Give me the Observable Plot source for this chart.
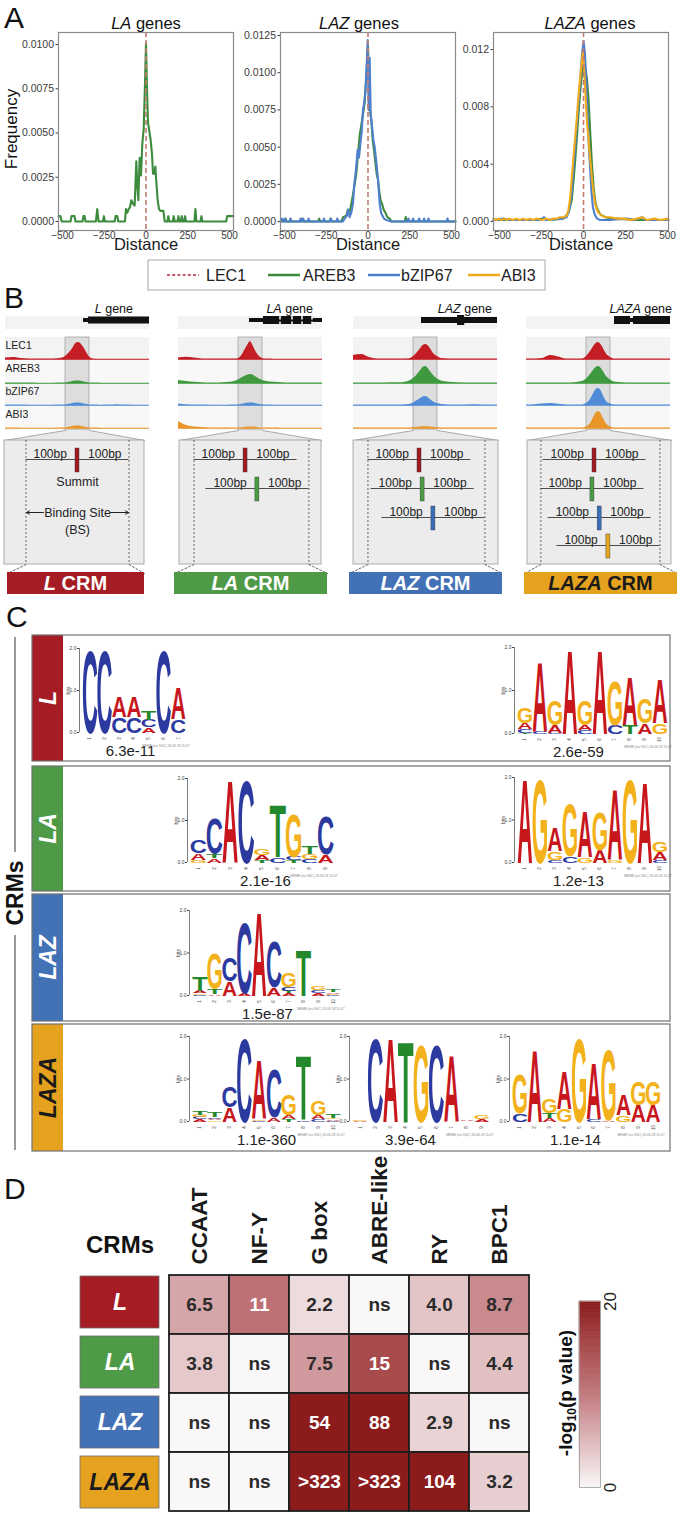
<!DOCTYPE html>
<html><head><meta charset="utf-8">
<script src="https://cdn.jsdelivr.net/npm/d3@7"></script>
<script src="https://cdn.jsdelivr.net/npm/@observablehq/plot@0.6"></script>
<style>
html,body{margin:0;padding:0;background:#fff;}
#root{position:relative;width:677px;height:1513px;overflow:hidden;font-family:"Liberation Sans",Arial,sans-serif;}
</style></head><body><div id="root"></div>
<script>
// ---------------- DATA ----------------
// Panel A: distance-to-LEC1-summit frequency curves ([distance, frequency])
const DIST_TICKS = [-500, -250, 0, 250, 500];
const A_TITLES = ["LA", "LAZ", "LAZA"];
const LEGEND_TF = ["LEC1", "AREB3", "bZIP67", "ABI3"];
const LA_AREB3 = [[-524,0.0003],[-512,0.0003],[-505,0],[-452,0],[-446,0.0003],[-428,0.0003],[-422,0],[-380,0],[-375,0.0003],[-368,0.0003],[-362,0],[-300,0],[-292,0.0007],[-284,0],[-258,0],[-252,0.0003],[-246,0],[-188,0],[-182,0.0003],[-172,0.0003],[-166,0],[-126,0],[-120,0.0007],[-112,0.0005],[-104,0.0007],[-96,0.0008],[-88,0.0012],[-78,0.0010],[-68,0.0009],[-58,0.0034],[-52,0.0020],[-46,0.0012],[-38,0.0036],[-30,0.0026],[-22,0.0044],[-14,0.0052],[-6,0.0078],[0,0.0101],[6,0.0075],[12,0.0056],[20,0.0051],[28,0.0046],[36,0.0038],[42,0.0027],[50,0.0027],[56,0.0031],[62,0.0022],[70,0.0012],[78,0.0007],[86,0.0006],[104,0.0006],[112,0],[128,0],[134,0.0003],[140,0],[160,0],[166,0.0003],[172,0],[188,0],[194,0.0003],[200,0],[208,0],[214,0.0003],[220,0],[228,0],[234,0.0003],[240,0],[290,0],[296,0.0007],[302,0],[326,0],[332,0.0003],[338,0],[480,0],[486,0.0003],[524,0.0003]];
const LAZ_AREB3 = [[-524,0],[-500,0],[-494,0.0002],[-488,0],[-400,0],[-394,0.0002],[-388,0],[-300,0],[-292,0.0002],[-286,0],[-230,0],[-224,0.0002],[-218,0],[-160,0],[-150,0.0003],[-130,0.0004],[-120,0.0008],[-110,0.0006],[-100,0.0012],[-90,0.0018],[-80,0.0025],[-70,0.0032],[-60,0.0045],[-50,0.0058],[-40,0.0065],[-30,0.0072],[-20,0.0080],[-10,0.0098],[0,0.0118],[6,0.0095],[12,0.0075],[20,0.0068],[28,0.0055],[36,0.0048],[44,0.0040],[52,0.0032],[60,0.0028],[68,0.0020],[76,0.0014],[84,0.0012],[94,0.0008],[104,0.0006],[116,0.0003],[130,0.0002],[140,0],[220,0],[226,0.0003],[232,0],[524,0]];
const LAZ_BZIP67 = [[-524,0],[-515,0.0002],[-505,0],[-498,0.0002],[-490,0],[-470,0],[-464,0.0002],[-458,0],[-410,0],[-404,0.0002],[-396,0],[-388,0.0002],[-380,0],[-362,0],[-356,0.0002],[-350,0],[-270,0],[-264,0.0002],[-258,0],[-230,0],[-222,0.0002],[-216,0],[-190,0],[-184,0.0002],[-178,0],[-150,0],[-140,0.0002],[-126,0.0004],[-118,0.0008],[-110,0.0003],[-100,0.0006],[-90,0.0012],[-82,0.0025],[-72,0.0035],[-62,0.0048],[-54,0.0043],[-46,0.0052],[-38,0.0060],[-30,0.0075],[-22,0.0080],[-14,0.0090],[-8,0.0105],[-2,0.0122],[4,0.0075],[10,0.0110],[16,0.0072],[24,0.0064],[32,0.0055],[40,0.0050],[48,0.0042],[56,0.0033],[62,0.0025],[70,0.0012],[78,0.0006],[86,0.0004],[96,0.0002],[110,0.0001],[140,0],[236,0],[242,0.0002],[248,0],[264,0],[270,0.0002],[276,0],[300,0],[306,0.0002],[312,0],[330,0],[336,0.0002],[342,0],[356,0],[362,0.0002],[368,0],[470,0],[476,0.0002],[482,0],[524,0]];
const LAZA_AREB3 = [[-536,0.0001],[-500,0.0001],[-300,0.0001],[-240,0.0002],[-200,0.0001],[-120,0.0002],[-90,0.0006],[-70,0.0015],[-60,0.0028],[-50,0.0042],[-40,0.0058],[-30,0.0075],[-20,0.0090],[-10,0.0102],[0,0.0110],[10,0.0108],[20,0.0100],[30,0.0085],[40,0.0062],[50,0.0040],[60,0.0024],[70,0.0014],[80,0.0009],[100,0.0005],[130,0.0003],[160,0.0002],[200,0.0002],[300,0.0001],[506,0.0001]];
const LAZA_BZIP67 = [[-536,0.0001],[-480,0.0002],[-430,0.0001],[-250,0.0001],[-235,0.0003],[-225,0.0001],[-130,0.0002],[-100,0.0003],[-85,0.0008],[-70,0.0020],[-60,0.0036],[-50,0.0052],[-40,0.0068],[-30,0.0082],[-20,0.0098],[-10,0.0115],[0,0.0126],[8,0.0118],[16,0.0098],[24,0.0075],[32,0.0052],[40,0.0035],[48,0.0020],[56,0.0010],[66,0.0005],[80,0.0002],[100,0.0001],[150,0.0001],[260,0.0002],[300,0.0001],[350,0.0003],[370,0.0001],[506,0.0001]];
const LAZA_ABI3 = [[-536,0.0002],[-520,0.0001],[-505,0.0002],[-490,0.0001],[-470,0.0002],[-455,0.0001],[-440,0.0002],[-420,0.0001],[-400,0.0002],[-380,0.0001],[-360,0.0002],[-340,0.0001],[-320,0.0002],[-300,0.0001],[-280,0.0002],[-250,0.0001],[-220,0.0002],[-200,0.0001],[-180,0.0002],[-160,0.0002],[-140,0.0003],[-120,0.0003],[-100,0.0004],[-90,0.0008],[-80,0.0016],[-70,0.0030],[-60,0.0045],[-50,0.0058],[-40,0.0072],[-30,0.0088],[-20,0.0100],[-10,0.0112],[-4,0.0118],[4,0.0105],[12,0.0088],[20,0.0070],[28,0.0060],[36,0.0048],[44,0.0038],[52,0.0028],[60,0.0020],[70,0.0012],[80,0.0008],[90,0.0006],[110,0.0004],[130,0.0003],[160,0.0003],[200,0.0002],[240,0.0002],[280,0.0001],[320,0.0002],[350,0.0003],[380,0.0001],[420,0.0002],[460,0.0001],[500,0.0002],[506,0.0001]];

// Panel B: genome-browser tracks (signal at positions, bp relative to LEC1 summit)
const B_GENES = ["L", "LA", "LAZ", "LAZA"];
const B_TF = ["LEC1", "AREB3", "bZIP67", "ABI3"];
const B_POS = [-900,-800,-700,-600,-500,-400,-300,-200,-150,-100,-60,-30,0,30,60,100,150,200,300,400,500,600,700,800,900];
const B_SIGNAL_L = [
  [1.5,2,1,0.5,0.4,0.4,0.5,1.2,3,7,11,15,17,16.5,14,9,2.5,0.6,0.3,0.3,0.3,0.3,0.3,0.3,0.3],
  [0.4,0.4,0.4,0.4,0.3,0.3,0.3,0.4,0.6,1.2,2,2.5,2.6,2.4,2,1.2,0.6,0.4,0.3,0.3,0.3,0.3,0.3,0.3,0.3],
  [0.6,0.4,0.4,0.3,0.3,0.3,0.3,0.4,0.6,1.2,2,2.5,2.6,2.4,2,1.2,0.6,0.4,0.3,0.4,0.8,0.4,0.3,0.3,0.3],
  [0.4,0.4,0.3,0.3,0.3,0.3,0.3,0.4,0.6,1.2,2,2.5,2.6,2.4,2,1.2,0.6,0.4,0.3,0.3,0.3,0.3,0.3,0.3,0.3]];
const B_SIGNAL_LA = [
  [1.5,2.2,1.5,0.5,0.4,0.4,0.4,0.4,1,5,11,15,18,14,9,4,1,0.4,0.3,0.3,0.3,0.3,0.3,0.3,0.3],
  [3,2,1.2,0.8,0.6,0.6,1,2,3.5,6,7.5,8.5,9,8.5,7,5,3,2,1.2,0.8,0.5,0.4,0.4,0.4,0.4],
  [1.5,0.8,0.4,0.4,0.3,0.3,0.3,0.4,0.6,1.2,2,2.5,2.6,2.4,2,1.2,0.6,0.4,0.3,0.3,0.3,0.3,0.3,0.3,0.3],
  [7,3,1.5,1,0.6,0.5,0.4,0.4,0.5,0.8,1.2,1.5,1.5,1.4,1.2,0.8,0.5,0.4,0.4,0.3,0.3,0.3,0.3,0.3,0.3]];
const B_SIGNAL_LAZ = [
  [4,5,2,0.6,0.5,0.5,0.5,0.8,3,7,11,14,15,14,11,6,3,1,0.6,0.5,0.5,0.5,0.5,0.5,0.5],
  [0.5,0.5,0.5,0.5,0.6,0.7,0.8,2.5,5,9,13,16,17,15.5,12,8,4.5,2.5,1.2,0.8,0.6,0.5,0.5,0.5,0.5],
  [0.5,0.6,0.5,0.5,0.5,0.5,0.6,1,2.5,5,7,8.5,9,8,6,3.5,2,1,0.6,0.5,0.6,0.8,0.6,0.5,0.5],
  [0.5,0.5,0.5,0.5,0.5,0.5,0.5,0.6,0.8,1.2,1.5,1.7,1.8,1.7,1.5,1.2,0.8,0.6,0.5,0.5,0.5,0.5,0.5,0.5,0.5]];
const B_SIGNAL_LAZA = [
  [0.4,0.5,1,4,2.5,0.5,0.4,0.5,3,8,13,16,17,15,11,5.5,2,0.6,0.4,0.4,0.4,0.4,0.4,0.4,0.4],
  [0.4,0.4,0.4,0.5,0.5,0.6,0.8,2,4.5,9,13.5,16,17,15.5,12,7,3.5,1.5,0.8,0.5,0.4,0.4,0.4,0.4,0.4],
  [0.6,0.8,1.5,2,1.2,0.6,0.5,0.6,2,6,12,16,17,15,10,4,1.5,0.6,0.5,0.5,0.5,0.4,0.4,0.4,0.4],
  [0.4,0.4,0.4,0.4,0.4,0.4,0.4,0.5,1.5,5,11,15.5,17,15,10,4.5,1.5,0.5,0.4,0.4,0.4,0.4,0.4,0.4,0.4]];
// gene models: [start bp, end bp, thickness]
const B_GENE_L = [[75,137,4],[137,900,7]];
const B_GENE_LA = [[-12,162,4],[162,365,8],[385,515,8],[535,640,8],[660,765,8],[785,900,4]];
const B_GENE_LAZ = [[-50,900,6],[400,490,10]];
const B_GENE_LAZA = [[200,400,8],[400,437,4],[437,900,8]];
// summit offsets (bp, relative to LEC1 summit) of the TFs defining each CRM
const B_SUMMITS_L = [0];
const B_SUMMITS_LA = [0, 23];
const B_SUMMITS_LAZ = [0, 6, 27];
const B_SUMMITS_LAZA = [0, -4, 10, 27];

// Panel C: motif logos, per position [A, C, G, T] information (bits)
const LOGO_L1 = [[0,2,0,0],[0,2,0,0],[0.5,0.38,0,0],[0.5,0.38,0,0],[0.12,0.18,0,0.22],[0,2,0,0],[0.75,0.33,0,0]];
const LOGO_L2 = [[0.15,0.08,0.37,0.02],[1.65,0.05,0,0],[0.18,0.02,0.6,0],[2,0,0,0],[0.12,0.08,0.6,0],[2,0,0,0],[0,0.2,1.05,0],[1.15,0,0,0.2],[0.25,0,0.58,0],[1.05,0,0.25,0]];
const LOGO_LA1 = [[0.17,0.3,0.05,0],[0.1,0.85,0,0.1],[2,0,0,0],[0,2,0,0],[0.13,0,0.17,0.05],[0,0.12,0,1.28],[0,0.08,1.05,0.05],[0,0.08,0.12,0.18],[0.2,0.92,0,0]];
const LOGO_LA2 = [[2,0,0,0],[0,0,2,0],[0.55,0.07,0.2,0],[0,0.15,1.25,0],[1.1,0,0.12,0],[0.3,0,0.9,0],[1.7,0,0.05,0],[0,0,2,0],[1.95,0,0,0],[0.2,0.05,0.25,0]];
const LOGO_LAZ = [[0.06,0.02,0.03,0.33],[0.03,0,0.85,0.12],[0.35,0.55,0,0],[0.05,1.7,0,0],[2,0,0,0],[0.2,1.1,0,0],[0.05,0.1,0.35,0.05],[0,0,0,1.1],[0.05,0.07,0.1,0],[0.04,0.02,0.02,0.05]];
const LOGO_LAZA1 = [[0.05,0.05,0.05,0.08],[0.04,0.04,0.03,0.12],[0.35,0.5,0,0],[0,2,0,0],[1.42,0.02,0.03,0],[0.1,1.15,0,0],[0.1,0,0.5,0.05],[0,0.04,0,1.55],[0.1,0.05,0.35,0],[0.03,0.02,0.04,0.08]];
const LOGO_LAZA2 = [[0.02,0,0.02,0],[0,2,0,0],[2,0,0,0],[0,0,0,1.95],[0,0,1.85,0],[0,1.85,0,0],[1.6,0,0,0],[0.02,0,0.01,0],[0.06,0,0.08,0]];
const LOGO_LAZA3 = [[0,0.2,0.95,0],[1.72,0,0,0],[0.08,0,0.35,0.12],[0.9,0,0.3,0],[0,0,2,0],[1.35,0.06,0,0],[0.04,0,1.7,0],[0.5,0,0.15,0],[0.4,0,0.55,0],[0.4,0,0.55,0]];
const LOGO_PVALUES = ["6.3e-11", "2.6e-59", "2.1e-16", "1.2e-13", "1.5e-87", "1.1e-360", "3.9e-64", "1.1e-14"];

// Panel D: motif enrichment (-log10 p), labels as printed
const D_CRMS = ["L", "LA", "LAZ", "LAZA"];
const D_MOTIFS = ["CCAAT", "NF-Y", "G box", "ABRE-like", "RY", "BPC1"];
const D_LABELS = [
  ["6.5", "11", "2.2", "ns", "4.0", "8.7"],
  ["3.8", "ns", "7.5", "15", "ns", "4.4"],
  ["ns", "ns", "54", "88", "2.9", "ns"],
  ["ns", "ns", ">323", ">323", "104", "3.2"]];
const D_LEGEND_TICKS = [0, 20];

// ---------------- STYLE ----------------
const FONT = '"Liberation Sans", Arial, sans-serif';
const NARROW = '"Liberation Sans Narrow", "Liberation Sans", Arial, sans-serif';
const GREEN = "#3d8b3d", BLUE = "#4d7fcc", ORANGE = "#f0aa1c", LECRED = "#c47c72", LECLEG = "#b5283c";
const CRM_COL = {L: "#a51c24", LA: "#4e9a47", LAZ: "#4371b6", LAZA: "#e5a21f"};
const CRM_TXT = {L: "#fff", LA: "#fff", LAZ: "#fff", LAZA: "#1a1a1a"};
const PEAK_COL = ["#c41e24", "#3f9a3f", "#4f8bd6", "#e8952a"];
const SUMMIT_COL = ["#a01a22", "#4a9c44", "#3a6fb8", "#e8a51f"];
const BASE_COL = {A: "#c8161d", C: "#2c3a9f", G: "#f3b21b", T: "#23882c"};
const INK_W = {A: 0.70, C: 0.66, G: 0.70, T: 0.58};
const BASES = ["A", "C", "G", "T"];

const root = document.getElementById("root");
function put(node, left, top) {
  node.style.position = "absolute"; node.style.left = left + "px"; node.style.top = top + "px";
  root.appendChild(node); return node;
}
const baseStyle = {background: "none", overflow: "visible", fontFamily: FONT};

// ---------------- PANEL A ----------------
const A_CFG = [
  {left: 0, width: 236, ml: 58, mr: 3, xd: [-524, 524], yd: [-0.00051, 0.01068], yt: [0, 0.0025, 0.005, 0.0075, 0.01], fmt: ".4f", series: [[LA_AREB3, GREEN]]},
  {left: 225, width: 233, ml: 55, mr: 3, xd: [-524, 524], yd: [-0.0006, 0.0127], yt: [0, 0.0025, 0.005, 0.0075, 0.01, 0.0125], fmt: ".4f", series: [[LAZ_AREB3, GREEN], [LAZ_BZIP67, BLUE]]},
  {left: 455, width: 217, ml: 38, mr: 4, xd: [-536, 506], yd: [-0.00063, 0.01319], yt: [0, 0.004, 0.008, 0.012], fmt: ".3f", series: [[LAZA_AREB3, GREEN], [LAZA_BZIP67, BLUE], [LAZA_ABI3, ORANGE]]}
];
A_CFG.forEach(cfg => {
  const marks = [
    Plot.axisY({ticks: cfg.yt, tickFormat: d3.format(cfg.fmt), tickSize: 2.5, tickPadding: 2, fontSize: 10.5, label: null}),
    Plot.axisX({ticks: DIST_TICKS, tickSize: 1.5, tickPadding: 0, fontSize: 10, label: null})
  ];
  cfg.series.forEach(([data, color]) => marks.push(Plot.line(data, {x: d => d[0], y: d => d[1], stroke: color, strokeWidth: 2.1})));
  marks.push(Plot.ruleX([0], {stroke: LECRED, strokeWidth: 1.6, strokeDasharray: "5,3"}));
  marks.push(Plot.frame({stroke: "#8a8a8a", strokeWidth: 1.2}));
  marks.push(Plot.text(["Distance"], {frameAnchor: "bottom", dy: 19, fontSize: 16.5, fill: "#1a1a1a"}));
  const svg = Plot.plot({
    width: cfg.width, height: 252, marginLeft: cfg.ml, marginRight: cfg.mr, marginTop: 32, marginBottom: 22,
    x: {domain: cfg.xd}, y: {domain: cfg.yd},
    style: {...baseStyle, color: "#3a3a3a"}, marks
  });
  put(svg, cfg.left, 0);
});

// ---------------- PANEL B ----------------
const B_TRACK_LEFT = [5, 178, 353, 526];
const B_ZC = [0, -62, -75, -50];
const B_CRM_X = [[7, 144], [174, 327], [349, 502], [524, 677]];
const B_BOX_X = [[4, 144], [179, 321], [353, 498], [527, 671]];
const TRACK_BASE = [359, 383, 405, 428];
const TRACK_LABEL_Y = [348, 371, 394, 417];
const B_ROW_Y = [459, 488, 517, 545];
const B_SIG = [B_SIGNAL_L, B_SIGNAL_LA, B_SIGNAL_LAZ, B_SIGNAL_LAZA];
const B_GENE = [B_GENE_L, B_GENE_LA, B_GENE_LAZ, B_GENE_LAZA];
const B_SUM = [B_SUMMITS_L, B_SUMMITS_LA, B_SUMMITS_LAZ, B_SUMMITS_LAZA];
const pxToBp = (ci, px) => (px - B_TRACK_LEFT[ci]) / 0.08 - 900;

B_GENES.forEach((g, ci) => {
  const z2t = z => B_ZC[ci] + z * 6.44;
  const offs = B_SUM[ci];
  const bsL = z2t(d3.min(offs) - 100), bsR = z2t(d3.max(offs) + 100);
  const boxL = pxToBp(ci, B_BOX_X[ci][0]), boxR = pxToBp(ci, B_BOX_X[ci][1]);
  const crmL = pxToBp(ci, B_CRM_X[ci][0]), crmR = pxToBp(ci, B_CRM_X[ci][1]);
  const gene = B_GENE[ci];
  const marks = [
    Plot.rect([0], {x1: -900, x2: 900, y1: 316, y2: 329, fill: "#f3f3f3"}),
    Plot.ruleY([320], {x1: gene[0][0], x2: 900, stroke: "#111", strokeWidth: 2}),
    Plot.rect(gene, {x1: d => d[0], x2: d => d[1], y1: d => 320 - d[2] / 2, y2: d => 320 + d[2] / 2, fill: "#111"}),
    Plot.rect(TRACK_BASE, {x1: -900, x2: 900, y1: d => d - 22, y2: d => d + 1.5, fill: (d, i) => i % 2 ? "#f8f8f8" : "#f3f3f3"}),
    Plot.rect([0], {x1: -150, x2: 150, y1: 337, y2: 430, fill: "#d8d8d8", fillOpacity: 0.85, stroke: "#a3a3a3", strokeWidth: 0.8})
  ];
  B_SIG[ci].forEach((sig, t) => {
    const base = TRACK_BASE[t];
    marks.push(Plot.ruleY([base], {stroke: PEAK_COL[t], strokeWidth: 0.8}));
    marks.push(Plot.areaY(B_POS.map((p, j) => ({x: p, s: sig[j]})), {x: "x", y1: base, y2: d => base - d.s, fill: PEAK_COL[t], curve: "monotone-x"}));
  });
  marks.push(
    Plot.areaY([[boxL, 440], [-150, 430], [150, 430], [boxR, 440]], {x: d => d[0], y1: 440, y2: d => d[1], fill: "#e9e9e9"}),
    Plot.line([[-150, 430], [boxL, 440]], {x: d => d[0], y: d => d[1], stroke: "#9a9a9a", strokeWidth: 0.8}),
    Plot.line([[150, 430], [boxR, 440]], {x: d => d[0], y: d => d[1], stroke: "#9a9a9a", strokeWidth: 0.8}),
    Plot.rect([0], {x1: boxL, x2: boxR, y1: 440, y2: 564, fill: "#ececec", stroke: "#9a9a9a", strokeWidth: 0.8}),
    Plot.ruleX([bsL, bsR], {y1: 440, y2: 564, stroke: "#555", strokeDasharray: "2,2", strokeWidth: 0.9}),
    Plot.line([[bsL, 564], [crmL, 573]], {x: d => d[0], y: d => d[1], stroke: "#555", strokeDasharray: "2,2", strokeWidth: 0.9}),
    Plot.line([[bsR, 564], [crmR, 573]], {x: d => d[0], y: d => d[1], stroke: "#555", strokeDasharray: "2,2", strokeWidth: 0.9})
  );
  offs.forEach((off, r) => {
    const yl = B_ROW_Y[r], xc = z2t(off);
    marks.push(Plot.ruleY([yl], {x1: z2t(off - 100), x2: z2t(off + 100), stroke: "#3a3a3a", strokeWidth: 0.9}));
    marks.push(Plot.text(["100bp", "100bp"], {x: (d, i) => z2t(off + (i ? 53 : -53)), y: yl - 2, lineAnchor: "bottom", fontSize: 12, fill: "#222"}));
    marks.push(Plot.rect([off], {x1: xc - 25, x2: xc + 25, y1: yl - 11, y2: yl + 13, fill: SUMMIT_COL[r], stroke: "#333", strokeWidth: 0.4}));
  });
  if (ci === 0) {
    marks.push(
      Plot.text(["Summit"], {x: z2t(0), y: 485, lineAnchor: "bottom", fontSize: 12.5, fill: "#222"}),
      Plot.text(["Binding Site"], {x: z2t(0), y: 516, lineAnchor: "bottom", fontSize: 12.5, fill: "#222"}),
      Plot.text(["(BS)"], {x: z2t(0), y: 533, lineAnchor: "bottom", fontSize: 12.5, fill: "#222"}),
      Plot.arrow([{a: z2t(-66), b: z2t(-99)}, {a: z2t(64), b: z2t(99)}], {x1: "a", x2: "b", y1: 512, y2: 512, stroke: "#222", strokeWidth: 1, headLength: 5}),
      Plot.text(B_TF, {x: -900, y: (d, i) => TRACK_LABEL_Y[i], textAnchor: "start", lineAnchor: "bottom", fontSize: 10.5, fill: "#222"})
    );
  }
  const svg = Plot.plot({
    width: 160, height: 304, marginLeft: 8, marginRight: 8, marginTop: 0, marginBottom: 0,
    x: {domain: [-900, 900], axis: null}, y: {domain: [600, 296], axis: null},
    style: baseStyle, marks
  });
  put(svg, B_TRACK_LEFT[ci] - 8, 296);
});

// ---------------- PANEL C ----------------
const LOGO_CFG = [
  {cols: LOGO_L1, x0: 82, x1: 185, y2: 648, y0: 732, pdx: -3.5},
  {cols: LOGO_L2, x0: 517, x1: 667, y2: 647, y0: 733, pdx: -14},
  {cols: LOGO_LA1, x0: 190, x1: 333, y2: 778, y0: 862, pdx: 3.5},
  {cols: LOGO_LA2, x0: 517, x1: 667, y2: 777, y0: 862, pdx: -14},
  {cols: LOGO_LAZ, x0: 192, x1: 340, y2: 910, y0: 995, pdx: 1},
  {cols: LOGO_LAZA1, x0: 192, x1: 340, y2: 1036, y0: 1121, pdx: 0},
  {cols: LOGO_LAZA2, x0: 352, x1: 489, y2: 1036, y0: 1121, pdx: -10.5},
  {cols: LOGO_LAZA3, x0: 512, x1: 660, y2: 1036, y0: 1121, pdx: -11}
];
LOGO_CFG.forEach((cfg, li) => {
  const n = cfg.cols.length;
  const letters = [];
  cfg.cols.forEach((col, j) => {
    const items = BASES.map((b, k) => ({base: b, h: col[k]})).filter(d => d.h > 0).sort((a, b) => a.h - b.h);
    let acc = 0;
    for (const it of items) { letters.push({pos: j + 1, base: it.base, h: it.h, y0: acc}); acc += it.h; }
  });
  const ml = 20, mr = 45, mt = 5, mb = 30;
  const plotW = cfg.x1 - cfg.x0, plotH = cfg.y0 - cfg.y2;
  const colW = plotW / n, pxBit = plotH / 2;
  const svg = Plot.plot({
    width: plotW + ml + mr, height: plotH + mt + mb, marginLeft: ml, marginRight: mr, marginTop: mt, marginBottom: mb,
    x: {domain: [0.5, n + 0.5], axis: null}, y: {domain: [0, 2], axis: null},
    style: {...baseStyle, color: "#444"},
    marks: [
      Plot.axisY({ticks: [0, 1, 2], tickSize: 2, tickPadding: 1, fontSize: 5, dx: -3, label: null}),
      Plot.ruleX([0.5], {y1: 0, y2: 2, dx: -3, stroke: "#444", strokeWidth: 0.7}),
      Plot.text(["bits"], {x: 0.5, y: 1, dx: -14, rotate: -90, fontSize: 5, fill: "#444"}),
      Plot.text(d3.range(1, n + 1), {x: d => d, y: 0, dy: 6, rotate: -90, text: d => String(d), fontSize: 4.5, fill: "#444"}),
      Plot.text(letters, {x: "pos", y: "y0", text: "base", fill: d => BASE_COL[d.base], fontSize: 100, fontWeight: "bold", lineAnchor: "bottom", fontFamily: FONT}),
      Plot.text([LOGO_PVALUES[li]], {x: (n + 1) / 2, y: 0, dy: 23, dx: cfg.pdx, lineAnchor: "bottom", fontSize: 15, fill: "#222"}),
      Plot.text(["MEME (no SSC) 26.06.18 15:47"], {x: n + 0.5, y: 0, dy: 13.5, dx: 4, textAnchor: "end", fontSize: 3.3, fill: "#888"})
    ]
  });
  const els = [...svg.querySelectorAll("text")].filter(t => t.textContent.length === 1 && "ACGT".includes(t.textContent));
  els.forEach((el, i) => {
    const d = letters[i]; if (!d) return;
    let tx = 0, ty = 0;
    const tr = el.getAttribute("transform");
    const m = tr && tr.match(/translate\(\s*([-\d.e]+)[ ,]+([-\d.e]+)\s*\)/);
    if (m) { tx = +m[1]; ty = +m[2]; } else { tx = +(el.getAttribute("x") || 0); ty = +(el.getAttribute("y") || 0); el.removeAttribute("x"); }
    el.removeAttribute("y"); el.removeAttribute("dy");
    const sx = colW * 0.99 / (INK_W[d.base] * 100);
    const sy = d.h * pxBit / 72;
    el.setAttribute("text-anchor", "middle");
    el.setAttribute("transform", `translate(${tx},${ty}) scale(${sx},${sy})`);
  });
  put(svg, cfg.x0 - ml, cfg.y2 - mt);
});

// ---------------- PANEL D ----------------
const cells = [];
D_CRMS.forEach((c, i) => D_MOTIFS.forEach((m, j) => {
  const lab = D_LABELS[i][j];
  const v = lab === "ns" ? 0 : lab.startsWith(">") ? 324 : +lab;
  cells.push({crm: c, motif: m, label: lab, v});
}));
const colorScale = {type: "linear", domain: [0, 10, 20], range: ["#f9f7f8", "#c27a7e", "#8c1c1c"], clamp: true};
put(Plot.plot({
  width: 545, height: 363, marginLeft: 168, marginRight: 16, marginTop: 123, marginBottom: 1,
  x: {domain: D_MOTIFS, padding: 0, axis: null}, y: {domain: D_CRMS, padding: 0, axis: null},
  color: colorScale,
  style: {...baseStyle, fontFamily: NARROW, fontWeight: "bold", color: "#1a1a1a"},
  marks: [
    Plot.cell(cells, {x: "motif", y: "crm", fill: "v", stroke: "#1e1e1e", strokeWidth: 1.8}),
    Plot.text(cells, {x: "motif", y: "crm", text: "label", fill: d => d.v >= 10 ? "#ffffff" : "#2b2b2b", fontSize: 19}),
    Plot.axisX({anchor: "top", tickRotate: -90, tickSize: 0, tickPadding: 9, fontSize: 22.5, label: null})
  ]
}), 0, 1150);

put(Plot.plot({
  width: 175, height: 240, marginLeft: 80, marginRight: 16, marginTop: 0, marginBottom: 0,
  x: {domain: [0, 1], axis: null}, y: {domain: D_CRMS, padding: 0, axis: null},
  style: {...baseStyle, fontFamily: NARROW},
  marks: [
    Plot.barX(D_CRMS, {x1: 0, x2: 1, y: d => d, fill: d => CRM_COL[d], stroke: "#6b6b6b", strokeWidth: 0.8, insetTop: 3, insetBottom: 5}),
    Plot.text(D_CRMS, {x: 0.5, y: d => d, dy: -1, text: d => d, fill: d => CRM_TXT[d], fontSize: 23, fontWeight: "bold", fontStyle: "italic"})
  ]
}), 0, 1273);

put(Plot.plot({
  width: 100, height: 207, marginLeft: 39, marginRight: 40, marginTop: 11, marginBottom: 10,
  x: {domain: [0, 1], axis: null}, y: {domain: [0, 20], axis: null},
  color: colorScale,
  style: {...baseStyle},
  marks: [
    Plot.rect(d3.range(0, 20, 0.25), {x1: 0, x2: 1, y1: d => d, y2: d => d + 0.25, fill: d => d + 0.125, stroke: d => d + 0.125, strokeWidth: 0.6}),
    Plot.frame({stroke: "#999", strokeWidth: 0.8}),
    Plot.text(D_LEGEND_TICKS, {x: 1, y: d => d, dx: 10, rotate: -90, text: d => String(d), fontSize: 17, fill: "#222"})
  ]
}), 540, 1290);

// ---------------- OVERLAY (titles, labels, schematic boxes) ----------------
const NS = "http://www.w3.org/2000/svg";
const over = document.createElementNS(NS, "svg");
over.setAttribute("width", 677); over.setAttribute("height", 1513);
function el(tag, attrs) { const e = document.createElementNS(NS, tag); for (const k in attrs) e.setAttribute(k, attrs[k]); over.appendChild(e); return e; }
function txt(x, y, parts, o = {}) {
  const t = el("text", {x, y, "font-family": o.family || FONT, "font-size": o.size || 12, fill: o.fill || "#111", "text-anchor": o.anchor || "start"});
  if (o.weight) t.setAttribute("font-weight", o.weight);
  if (o.rotate) t.setAttribute("transform", `rotate(${o.rotate},${x},${y})`);
  (Array.isArray(parts) ? parts : [parts]).forEach(p => {
    const s = document.createElementNS(NS, "tspan");
    if (typeof p === "string") s.textContent = p;
    else {
      s.textContent = p.t;
      if (p.i) s.setAttribute("font-style", "italic");
      if (p.size) s.setAttribute("font-size", p.size);
      if (p.dy) s.setAttribute("dy", p.dy);
    }
    t.appendChild(s);
  });
  return t;
}
function rect(x, y, w, h, o = {}) { return el("rect", {x, y, width: w, height: h, fill: o.fill || "none", stroke: o.stroke || "none", "stroke-width": o.sw || 1}); }
function line(x1, y1, x2, y2, o = {}) { const l = el("line", {x1, y1, x2, y2, stroke: o.stroke || "#333", "stroke-width": o.sw || 1}); if (o.dash) l.setAttribute("stroke-dasharray", o.dash); return l; }

// Panel A
txt(4, 28, "A", {size: 30});
[146, 359, 590].forEach((cx, i) => txt(cx, 29, [{t: A_TITLES[i], i: 1}, " genes"], {anchor: "middle", size: 16.5}));
txt(17, 129, "Frequency", {rotate: -90, anchor: "middle", size: 17});
rect(148, 260, 397, 30, {stroke: "#a8a8a8"});
const LEG = [[167, LECLEG, 206, "3,2.2", 1.5], [268, GREEN, 303, null, 2.5], [368, BLUE, 401, null, 2.5], [468, ORANGE, 501, null, 2.5]];
LEG.forEach(([lx, c, tx, dash, sw], i) => { line(lx, 275, lx + 32, 275, {stroke: c, sw, dash}); txt(tx, 281, LEGEND_TF[i], {size: 16, fill: "#222"}); });

// Panel B
txt(4, 308, "B", {size: 30});
const GENE_LABEL_X = [133, 313, 492, 672];
B_GENES.forEach((g, ci) => {
  txt(GENE_LABEL_X[ci], 313, [{t: g, i: 1}, " gene"], {anchor: "end", size: 12.5});
  const [x0, x1] = B_CRM_X[ci];
  rect(x0, 572, x1 - x0, 22, {fill: CRM_COL[g]});
  txt((x0 + x1) / 2, 590, [{t: g, i: 1}, " CRM"], {anchor: "middle", size: 20, weight: "bold", family: NARROW, fill: CRM_TXT[g]});
});

// Panel C
txt(6, 627, "C", {size: 30});
line(15, 637, 15, 852, {stroke: "#333"});
line(15, 935, 15, 1150, {stroke: "#333"});
txt(23, 893, "CRMs", {rotate: -90, anchor: "middle", size: 23, weight: "bold", family: NARROW});
const C_ROWS = [[635, 761], [766, 891], [894, 1021], [1024, 1151]];
B_GENES.forEach((g, i) => {
  const [y1, y2] = C_ROWS[i];
  rect(32, y1, 31, y2 - y1, {fill: CRM_COL[g]});
  rect(32, y1, 638, y2 - y1, {stroke: "#707070", sw: 1.2});
  txt(55.5, (y1 + y2) / 2, [{t: g, i: 1}], {rotate: -90, anchor: "middle", size: 23, weight: "bold", family: NARROW, fill: CRM_TXT[g]});
});

// Panel D
txt(4, 1199, "D", {size: 30});
txt(120, 1253, "CRMs", {anchor: "middle", size: 24, weight: "bold", family: NARROW});
txt(572, 1393, ["-log", {t: "10", size: 12, dy: 4}, {t: "(p value)", dy: -4}], {rotate: -90, anchor: "middle", size: 19, weight: "bold", family: NARROW});

put(over, 0, 0);
over.style.pointerEvents = "none";
</script></body></html>
